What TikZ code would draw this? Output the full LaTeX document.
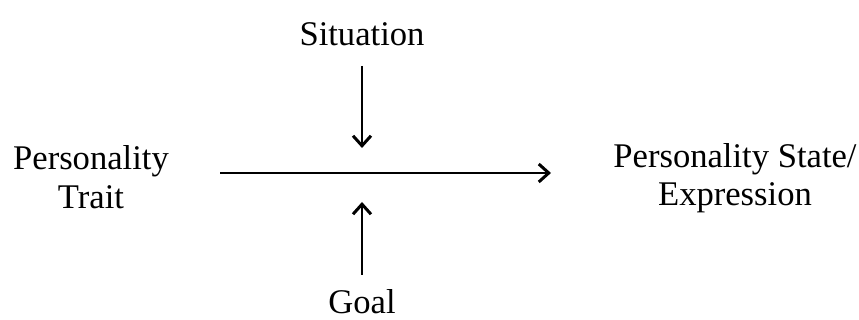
\documentclass[tikz,border=0pt]{standalone}
\usepackage{fontspec}
\setmainfont{Liberation Serif}
\usetikzlibrary{arrows.meta, positioning}
\tikzset{
  label/.style={
    align=center, inner sep=0pt,
    font=\fontsize{17.3}{19.2}\selectfont
  },
  arrow/.style={line width=1.3pt, -{Straight Barb[length=5pt, width=9pt, line width=1.5pt]}},
}
\begin{document}
\begin{tikzpicture}[x=0.5pt, y=-0.5pt]
  \useasboundingbox (0,0) rectangle (859,320);
  \node (sit)   [label] at (362,34)  {Situation};
  \node (trait) [label] at (91,177)  {Personality\\Trait};
  \node (state) [label] at (735,178) {Personality State/\\Expression};
  \node (goal)  [label] at (362,302) {Goal};

  \coordinate (left)  at (220,173);
  \coordinate (right) at (551,173);
  \coordinate (top)   at (362,148);
  \coordinate (bot)   at (362,202);

  \draw [arrow] (left) -- (right);
  \draw [arrow] (sit) ++(0,32) -- (top);
  \draw [arrow] (goal) ++(0,-27) -- (bot);
\end{tikzpicture}
\end{document}
